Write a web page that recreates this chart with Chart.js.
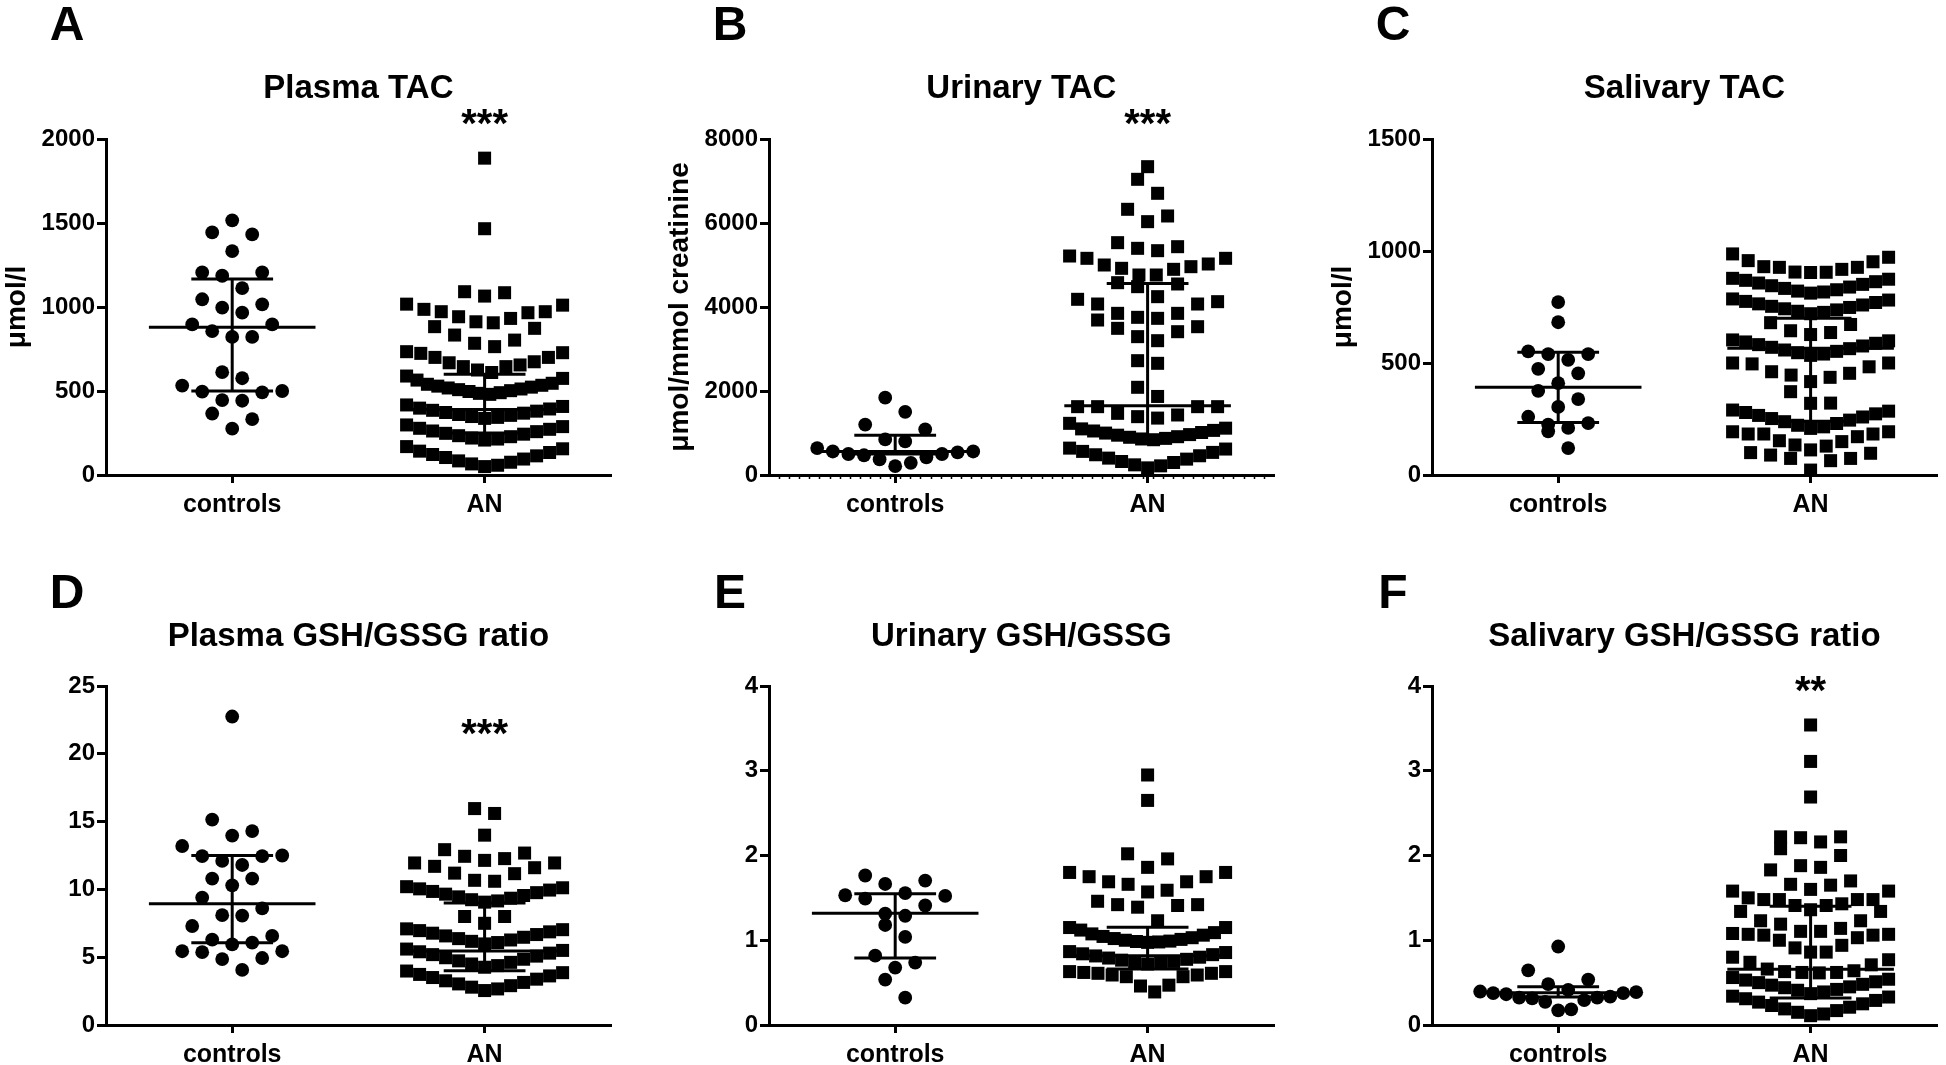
<!DOCTYPE html>
<html>
<head>
<meta charset="utf-8">
<script src="https://cdn.jsdelivr.net/npm/chart.js@4.4.1/dist/chart.umd.min.js"></script>
<style>
  html, body { margin:0; padding:0; background:#fff; width:1946px; height:1065px; overflow:hidden; }
  canvas { position:absolute; }
</style>
</head>
<body>
<canvas id="cA" width="620" height="530" style="left:0px;top:0px"></canvas>
<canvas id="cB" width="620" height="530" style="left:663px;top:0px"></canvas>
<canvas id="cC" width="620" height="530" style="left:1326px;top:0px"></canvas>
<canvas id="cD" width="620" height="530" style="left:0px;top:547px"></canvas>
<canvas id="cE" width="620" height="530" style="left:663px;top:547px"></canvas>
<canvas id="cF" width="620" height="530" style="left:1326px;top:547px"></canvas>
<script>
// ---------------- DATA ----------------
const categories = ['controls', 'AN'];

// A: Plasma TAC (µmol/l)
const A_ticks = [0, 500, 1000, 1500, 2000];
const A_controls = [1516,1444,1432,1332,1206,1186,1206,1112,1046,1016,996,966,896,896,856,822,822,612,576,532,496,492,500,446,442,366,332,276];
const A_AN = [1886,1466,1091,1085,1065,1017,986,972,966,972,1011,942,912,883,873,906,932,833,803,784,764,728,700,700,724,734,674,668,645,655,625,645,589,610,565,575,
  480,486,490,497,502,508,512,518,523,529,534,540,546,
  337,343,348,355,360,368,372,380,385,393,398,408,417,
  208,214,220,228,234,243,248,258,262,272,278,288,298,
  50,58,66,76,84,95,104,114,122,134,142,156,169];
const A_controls_iqr = [500, 880, 1166];   // Q1, median, Q3
const A_AN_iqr = [250, 390, 600];

// B: Urinary TAC (µmol/mmol creatinine)
const B_ticks = [0, 2000, 4000, 6000, 8000];
const B_controls = [1840,1504,1200,1088,848,800,640,560,500,470,370,210,290,420,500,540,560];
const B_AN = [7341,7040,6707,6326,6167,6032,5532,5397,5341,5436,5159,5024,4960,4897,4762,4762,4921,5000,5159,5214,
  4579,4484,4548,4071,4127,4246,4071,4183,3849,3690,3730,3754,3849,3492,3294,3412,3531,3198,2659,2722,2088,1870,
  1627,1627,1627,1627,1468,1389,1230,1355,1429,
  840,858,872,898,912,948,962,998,1012,1048,1062,1098,1115,
  170,218,242,298,322,378,402,458,482,538,562,618,640];
const B_controls_iqr = [500, 560, 944];
const B_AN_iqr = [900, 1650, 4560];

// C: Salivary TAC (µmol/l)
const C_ticks = [0, 500, 1000, 1500];
const C_controls = [772,682,540,552,540,514,474,454,410,376,339,304,260,225,210,232,195,120];
const C_AN = [972,952,927,918,906,904,905,927,930,957,987,
  812,817,821,827,833,839,845,851,857,863,869,874,878,
  720,726,731,737,742,748,753,759,764,770,775,781,786,
  627,636,644,672,680,
  534,540,546,552,558,564,570,576,582,588,594,599,603,
  417,436,446,454,461,483,496,500,500,
  372,321,320,
  208,215,222,230,238,245,252,259,266,273,279,285,290,
  112,129,134,149,153,171,183,183,183,193,193,
  100,89,74,64,74,97,22];
const C_controls_iqr = [234, 392, 548];
const C_AN_iqr = [240, 566, 700];

// D: Plasma GSH/GSSG ratio
const D_ticks = [0, 5, 10, 15, 20, 25];
const D_controls = [22.75,15.15,14.3,13.97,13.2,12.5,12.45,12.1,12.45,11.8,10.8,10.8,10.3,9.4,8.6,8.07,8.1,7.3,6.57,6.07,5.94,6.3,5.44,5.37,5.44,4.94,4.86,4.06];
const D_AN = [15.96,15.6,14.0,12.93,12.44,12.14,12.27,12.68,11.95,11.7,11.95,11.6,11.2,11.16,10.67,10.6,8.0,8.0,7.5,
  9.06,9.15,9.24,9.35,9.45,9.55,9.65,9.76,9.85,9.95,10.04,10.12,10.2,
  5.98,6.08,6.17,6.27,6.37,6.47,6.57,6.67,6.77,6.87,6.96,7.03,7.09,
  4.26,4.38,4.5,4.62,4.73,4.85,4.96,5.08,5.19,5.3,5.4,5.5,5.6,
  2.54,2.66,2.79,2.9,3.03,3.14,3.26,3.38,3.5,3.62,3.73,3.86,3.98];
const D_controls_iqr = [6.07, 8.95, 12.5];
const D_AN_iqr = [4.0, 5.45, 9.0];

// E: Urinary GSH/GSSG
const E_ticks = [0, 1, 2, 3, 4];
const E_controls = [1.764,1.704,1.664,1.555,1.531,1.523,1.49,1.41,1.313,1.289,1.18,1.039,0.818,0.737,0.677,0.536,0.322];
const E_AN = [2.95,2.65,2.02,1.96,1.86,1.80,1.80,1.75,1.69,1.66,1.69,1.75,1.59,1.57,1.46,1.42,1.39,1.41,1.42,1.15,1.15,1.23,
  0.975,0.98,0.985,0.99,1.0,1.01,1.02,1.03,1.045,1.06,1.075,1.09,1.12,
  0.72,0.73,0.74,0.75,0.765,0.775,0.79,0.80,0.815,0.83,0.84,0.855,0.866,
  0.39,0.46,0.47,0.57,0.57,0.59,0.59,0.61,0.61,0.62,0.63,0.63];
const E_controls_iqr = [0.79, 1.32, 1.55];
const E_AN_iqr = [0.66, 0.818, 1.152];

// F: Salivary GSH/GSSG ratio
const F_ticks = [0, 1, 2, 3, 4];
const F_controls = [0.926,0.645,0.536,0.483,0.395,0.375,0.363,0.322,0.294,0.274,0.314,0.334,0.322,0.375,0.387,0.415,0.173,0.185];
const F_AN = [3.54,3.11,2.69,2.22,2.21,2.08,2.0,2.16,2.22,1.86,1.83,1.88,1.70,1.65,1.66,
  1.58,1.48,1.48,1.43,1.41,1.36,1.41,1.48,1.48,1.50,1.58,1.60,
  1.34,1.23,1.14,1.105,1.105,1.19,1.23,1.34,
  1.07,1.06,1.03,0.94,0.86,0.86,0.91,1.0,1.06,1.07,1.08,
  0.80,0.74,0.66,0.62,0.615,0.62,0.64,0.63,0.71,0.77,
  0.37,0.39,0.41,0.42,0.44,0.45,0.47,0.48,0.50,0.51,0.53,0.54,0.56,
  0.11,0.13,0.15,0.17,0.19,0.21,0.23,0.25,0.27,0.29,0.31,0.33,0.34];
const F_controls_iqr = [0.33, 0.38, 0.45];
const F_AN_iqr = [0.32, 0.657, 1.40];

// ---------------- PANELS ----------------
const FONT = '"Liberation Sans", Arial, Helvetica, sans-serif';
Chart.defaults.font.family = FONT;
Chart.defaults.color = '#000';

const panels = [
  {id:'cA', letter:'A', title:'Plasma TAC', yTitle:'μmol/l', ticks:A_ticks, controls:A_controls, an:A_AN, ci:A_controls_iqr, ai:A_AN_iqr, stars:'***', starDy:-24, letterDy:-116, titleDy:-50, padBottom:5, binPx:21, minor:false},
  {id:'cB', letter:'B', title:'Urinary TAC', yTitle:'μmol/mmol creatinine', ticks:B_ticks, controls:B_controls, an:B_AN, ci:B_controls_iqr, ai:B_AN_iqr, stars:'***', starDy:-24, letterDy:-116, titleDy:-50, padBottom:5, binPx:21, minor:true},
  {id:'cC', letter:'C', title:'Salivary TAC', yTitle:'μmol/l', ticks:C_ticks, controls:C_controls, an:C_AN, ci:C_controls_iqr, ai:C_AN_iqr, stars:'', starDy:0, letterDy:-116, titleDy:-50, padBottom:5, binPx:20, minor:false},
  {id:'cD', letter:'D', title:'Plasma GSH/GSSG ratio', yTitle:'', ticks:D_ticks, controls:D_controls, an:D_AN, ci:D_controls_iqr, ai:D_AN_iqr, stars:'***', starDy:39, letterDy:-95, titleDy:-49, padBottom:2, binPx:20, minor:false},
  {id:'cE', letter:'E', title:'Urinary GSH/GSSG', yTitle:'', ticks:E_ticks, controls:E_controls, an:E_AN, ci:E_controls_iqr, ai:E_AN_iqr, stars:'', starDy:0, letterDy:-95, titleDy:-49, padBottom:2, binPx:21, minor:false},
  {id:'cF', letter:'F', title:'Salivary GSH/GSSG ratio', yTitle:'', ticks:F_ticks, controls:F_controls, an:F_AN, ci:F_controls_iqr, ai:F_AN_iqr, stars:'**', starDy:-4, letterDy:-95, titleDy:-49, padBottom:2, binPx:20, minor:false}
];

const MED_HALF = 0.33, CAP_HALF = 0.162;
const MAX_SPAN_PX = 156, MAX_STEP_PX = 20;

// Prism-like row swarm: values binned in rows, smallest in the centre, alternating outward
function swarm(values, cat, chart, binPx) {
  const xs = chart.scales.x, ys = chart.scales.y;
  const cx = xs.getPixelForValue(cat);
  const sorted = values.slice().sort((a, b) => a - b);
  const out = [];
  let i = 0;
  while (i < sorted.length) {
    const p0 = ys.getPixelForValue(sorted[i]);
    const row = [sorted[i]]; i++;
    while (i < sorted.length && (p0 - ys.getPixelForValue(sorted[i])) < binPx) { row.push(sorted[i]); i++; }
    const n = row.length;
    const sp = n > 1 ? Math.min(MAX_STEP_PX, MAX_SPAN_PX / (n - 1)) : 0;
    row.forEach((v, k) => {
      let slot;
      if (n % 2 === 1) slot = k === 0 ? 0 : (k % 2 === 1 ? (k + 1) / 2 : -k / 2);
      else slot = k % 2 === 0 ? (k / 2 + 0.5) : -((k - 1) / 2 + 0.5);
      out.push({x: xs.getValueForPixel(cx + slot * sp), y: v});
    });
  }
  return out;
}

function iqrSets(c, q) {
  const base = {type:'scatter', showLine:true, borderColor:'#000', borderWidth:3, pointRadius:0, order:1, clip:false, borderCapStyle:'butt'};
  return [
    Object.assign({}, base, {data:[{x:c - MED_HALF, y:q[1]}, {x:c + MED_HALF, y:q[1]}]}),
    Object.assign({}, base, {data:[{x:c - CAP_HALF, y:q[0]}, {x:c + CAP_HALF, y:q[0]}]}),
    Object.assign({}, base, {data:[{x:c - CAP_HALF, y:q[2]}, {x:c + CAP_HALF, y:q[2]}]}),
    Object.assign({}, base, {data:[{x:c, y:q[0]}, {x:c, y:q[2]}]})
  ];
}

const textPlugin = {
  id: 'panelText',
  afterDraw(chart, args, o) {
    const {ctx, chartArea} = chart;
    const xs = chart.scales.x;
    ctx.save();
    ctx.fillStyle = '#000';
    ctx.strokeStyle = '#000';
    if (o.minor) {
      ctx.lineWidth = 1.5;
      ctx.beginPath();
      for (let v = 0.54; v < 2.5; v += 0.04) {
        const px = Math.round(xs.getPixelForValue(v)) + 0.5;
        ctx.moveTo(px, chartArea.bottom + 1);
        ctx.lineTo(px, chartArea.bottom + 4);
      }
      ctx.stroke();
    }
    ctx.textAlign = 'center';
    ctx.textBaseline = 'middle';
    ctx.font = 'bold 33px ' + FONT;
    ctx.fillText(o.title, (chartArea.left + chartArea.right) / 2, chartArea.top + o.titleDy);
    ctx.textBaseline = 'alphabetic';
    ctx.font = 'bold 48px ' + FONT;
    ctx.fillText(o.letter, chartArea.left - 39, chartArea.top + o.letterDy + 17);
    if (o.stars) {
      ctx.font = 'bold 40px ' + FONT;
      ctx.fillText(o.stars, xs.getPixelForValue(2), chartArea.top + o.starDy + 22);
    }
    ctx.restore();
  }
};

panels.forEach(p => {
  const yMax = p.ticks[p.ticks.length - 1];
  const chart = new Chart(document.getElementById(p.id), {
    type: 'scatter',
    data: {
      datasets: [
        {data: p.controls.map(v => ({x:1, y:v})), pointStyle:'circle', pointRadius:6.9, backgroundColor:'#000', borderWidth:0, order:2, clip:false},
        {data: p.an.map(v => ({x:2, y:v})), pointStyle:'rect', pointRadius:9.2, backgroundColor:'#000', borderWidth:0, order:2, clip:false},
        ...iqrSets(1, p.ci),
        ...iqrSets(2, p.ai)
      ]
    },
    options: {
      responsive: false,
      devicePixelRatio: 1,
      animation: false,
      events: [],
      layout: {padding: {top:139, right:6, bottom:p.padBottom, left:0}},
      plugins: {
        legend: {display:false},
        tooltip: {enabled:false},
        panelText: {title:p.title, letter:p.letter, stars:p.stars, starDy:p.starDy, letterDy:p.letterDy, titleDy:p.titleDy, minor:p.minor}
      },
      scales: {
        x: {
          type: 'linear', min: 0.5, max: 2.5,
          afterBuildTicks: s => { s.ticks = [{value:1}, {value:2}]; },
          afterFit: s => { s.height = 50; },
          ticks: {callback: v => categories[v - 1], font:{size:25, weight:'bold'}, color:'#000', padding:7, maxRotation:0},
          grid: {display:true, drawOnChartArea:false, drawTicks:true, tickLength:8, lineWidth:3, color:'#000'},
          border: {display:true, width:3, color:'#000'}
        },
        y: {
          type: 'linear', min: 0, max: yMax,
          afterBuildTicks: s => { s.ticks = p.ticks.map(v => ({value:v})); },
          afterFit: s => { s.width = 106; },
          ticks: {callback: v => String(v), font:{size:24, weight:'bold'}, color:'#000', padding:2},
          grid: {display:true, drawOnChartArea:false, drawTicks:true, tickLength:9, lineWidth:3, color:'#000'},
          border: {display:true, width:3, color:'#000'},
          title: {display: !!p.yTitle, text:p.yTitle, font:{size:28, weight:'bold'}, color:'#000', padding:{top:0, bottom:0}}
        }
      }
    },
    plugins: [textPlugin]
  });
  chart.data.datasets[0].data = swarm(p.controls, 1, chart, p.binPx);
  chart.data.datasets[1].data = swarm(p.an, 2, chart, p.binPx);
  chart.update('none');
});
</script>
</body>
</html>
